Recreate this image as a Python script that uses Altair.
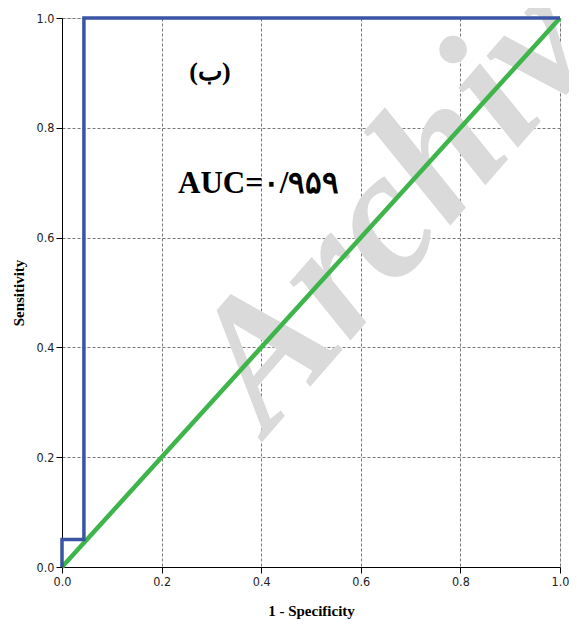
import altair as alt
import pandas as pd

roc_fpr = [0.0, 0.0, 0.044, 0.044, 1.0]
roc_tpr = [0.0, 0.05, 0.05, 1.0, 1.0]
ref_x = [0.0, 1.0]
ref_y = [0.0, 1.0]
ticks = [0.0, 0.2, 0.4, 0.6, 0.8, 1.0]
panel_label = "(ب)"
auc_label = "AUC=۰/۹۵۹"
watermark = "Archiv"

roc = pd.DataFrame({"fpr": roc_fpr, "tpr": roc_tpr, "ord": list(range(len(roc_fpr)))})
ref = pd.DataFrame({"fpr": ref_x, "tpr": ref_y, "ord": [0, 1]})

xs = alt.Scale(domain=[0, 1], nice=False)
ys = alt.Scale(domain=[0, 1], nice=False)

common = dict(values=ticks, format=".1f", grid=True,
              gridDash=[3, 2], gridColor="#777777", gridWidth=1,
              domainColor="black", tickColor="black", tickSize=6, labelFlush=False,
              labelFont="Liberation Sans Narrow, DejaVu Sans Condensed, sans-serif",
              labelFontSize=12.5, labelColor="#222222", labelPadding=2,
              titleFont="Liberation Serif", titleFontSize=15, titleFontWeight="bold",
              titleColor="black")
xaxis = alt.Axis(title="1 - Specificity", titlePadding=16, **common)
yaxis = alt.Axis(title="Sensitivity", titlePadding=10, **common)

wm = alt.Chart(pd.DataFrame({"x": [0.665], "y": [0.655], "t": [watermark]})).mark_text(
    font="Liberation Serif", fontSize=183, fontWeight="bold", fontStyle="italic",
    color="#dadada", angle=311, align="center", baseline="middle"
).encode(x=alt.X("x:Q", scale=xs, axis=xaxis), y=alt.Y("y:Q", scale=ys, axis=yaxis), text="t:N")

ref_line = alt.Chart(ref).mark_line(color="#3db54a", strokeWidth=4.5).encode(
    x=alt.X("fpr:Q", scale=xs), y=alt.Y("tpr:Q", scale=ys), order="ord:O")

roc_line = alt.Chart(roc).mark_line(color="#3a55a4", strokeWidth=3.5, clip=False).encode(
    x=alt.X("fpr:Q", scale=xs), y=alt.Y("tpr:Q", scale=ys), order="ord:O")

lab1 = alt.Chart(pd.DataFrame({"x": [0.297], "y": [0.902], "t": [panel_label]})).mark_text(
    font="Liberation Serif, DejaVu Serif", fontSize=26, fontWeight="bold", color="black",
    align="center", baseline="middle"
).encode(x=alt.X("x:Q", scale=xs), y=alt.Y("y:Q", scale=ys), text="t:N")

lab2 = alt.Chart(pd.DataFrame({"x": [0.395], "y": [0.697], "t": [auc_label]})).mark_text(
    font="Liberation Serif, DejaVu Serif", fontSize=31, fontWeight="bold", color="black",
    align="center", baseline="middle"
).encode(x=alt.X("x:Q", scale=xs), y=alt.Y("y:Q", scale=ys), text="t:N")

chart = alt.layer(wm, ref_line, roc_line, lab1, lab2).properties(
    width=498, height=549,
    autosize=alt.AutoSizeParams(type="none"),
    padding={"left": 54, "top": 10, "right": 9, "bottom": 52},
).configure_view(stroke="black", strokeWidth=1.5).configure(background="white")

chart.save("out.html", embed_options={"renderer": "svg", "actions": False})
